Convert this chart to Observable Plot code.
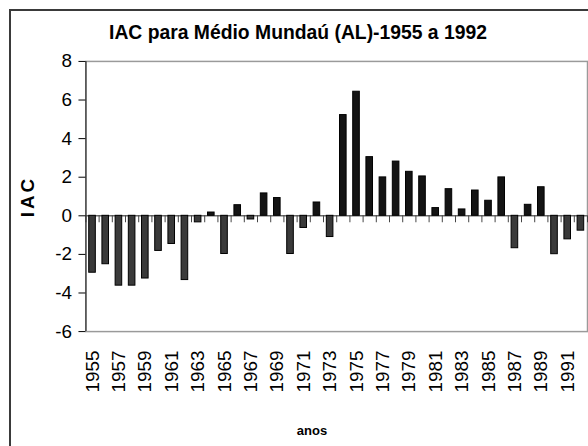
<!DOCTYPE html>
<html>
<head>
<meta charset="utf-8">
<script src="https://cdn.jsdelivr.net/npm/d3@7"></script>
<script src="https://cdn.jsdelivr.net/npm/@observablehq/plot@0.6"></script>
<style>
  html, body { margin: 0; padding: 0; background: #fff; width: 588px; height: 446px; overflow: hidden; }
  body { position: relative; font-family: "Liberation Sans", Arial, sans-serif; color: #000; }
  #border { position: absolute; left: 9px; top: 9px; width: 640px; height: 480px; border: 2px solid #3a3a3a; box-sizing: border-box; }
  #title { position: absolute; left: 0; top: 20px; width: 596px; text-align: center; font-weight: bold; font-size: 21px; line-height: 23px; white-space: nowrap; transform: scaleX(0.92); transform-origin: 298px 50%; }
  #chart { position: absolute; left: 0; top: 50px; }
  #caption { position: absolute; left: 212px; width: 200px; top: 423px; text-align: center; font-weight: bold; font-size: 13px; line-height: 15px; }
  g[aria-label="y-axis label"] text { font-weight: bold; letter-spacing: 3px; }
</style>
</head>
<body>
<div id="border"></div>
<div id="title">IAC para Médio Mundaú (AL)-1955 a 1992</div>
<div id="chart"></div>
<div id="caption">anos</div>
<script>
const years = [1955,1956,1957,1958,1959,1960,1961,1962,1963,1964,1965,1966,1967,1968,1969,1970,1971,1972,1973,1974,1975,1976,1977,1978,1979,1980,1981,1982,1983,1984,1985,1986,1987,1988,1989,1990,1991,1992];
const iac = [-2.95,-2.51,-3.62,-3.62,-3.25,-1.82,-1.46,-3.33,-0.34,0.17,-1.98,0.55,-0.19,1.16,0.92,-1.98,-0.63,0.69,-1.10,5.22,6.43,3.04,1.99,2.81,2.28,2.04,0.40,1.38,0.33,1.31,0.78,1.99,-1.68,0.57,1.48,-1.99,-1.22,-0.77];
const xTickYears = [1955,1957,1959,1961,1963,1965,1967,1969,1971,1973,1975,1977,1979,1981,1983,1985,1987,1989,1991];
const yTicks = [-6,-4,-2,0,2,4,6,8];

const data = years.map((year, i) => ({year, v: iac[i]}));
const halfCat = 0.5;     // half a category
const halfBar = 0.25;    // half a bar (bars fill half the category)
const catTickDepth = -0.36;
const boundaries = years.map(y => y - halfCat).concat([years[years.length - 1] + halfCat]);
const xDomain = [years[0] - halfCat, years[years.length - 1] + halfCat];

const chart = Plot.plot({
  width: 592,
  height: 370,
  marginTop: 11,
  marginBottom: 87,
  marginLeft: 86,
  marginRight: 1,
  style: {fontFamily: '"Liberation Sans", Arial, sans-serif', fontSize: "19px", color: "#000", background: "transparent", overflow: "visible"},
  x: {type: "linear", domain: xDomain},
  y: {domain: [-6, 8]},
  marks: [
    Plot.frame({stroke: "#9a9a9a", strokeWidth: 1.5}),
    Plot.ruleY([0], {stroke: "#6a6a6a", strokeWidth: 1.5}),
    Plot.ruleX(boundaries, {x: d => d, y1: 0, y2: catTickDepth, stroke: "#444", strokeWidth: 1}),
    Plot.rectY(data, {
      x1: d => d.year - halfBar,
      x2: d => d.year + halfBar,
      y: d => d.v,
      fill: d => d.v < 0 ? "#3a3a3a" : "#141414",
      stroke: "#000",
      strokeWidth: 1
    }),
    Plot.ruleX([xDomain[0]], {stroke: "#333", strokeWidth: 1.2}),
    Plot.axisY({ticks: yTicks, tickSize: 7, tickPadding: 7, tickFormat: d => String(d).replace("−", "-"), label: "IAC", labelAnchor: "center", labelArrow: "none", labelOffset: 66}),
    Plot.axisX({ticks: xTickYears, tickFormat: d => String(d), tickRotate: -90, tickSize: 0, tickPadding: 19, label: null})
  ]
});
document.getElementById("chart").appendChild(chart);
</script>
</body>
</html>
